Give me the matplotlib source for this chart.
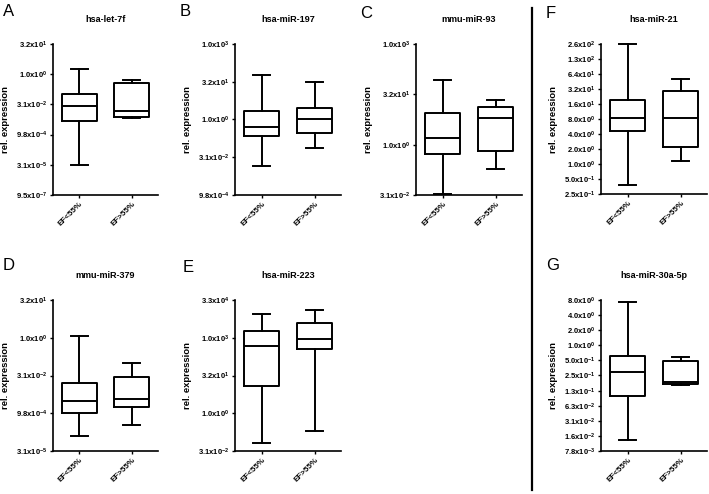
from decimal import Decimal, ROUND_HALF_UP

import numpy as np
import matplotlib
matplotlib.use("Agg")
import matplotlib.pyplot as plt
from matplotlib.lines import Line2D
from matplotlib.ticker import FuncFormatter, NullLocator

plt.rcParams["font.family"] = ["Liberation Sans", "DejaVu Sans"]
plt.rcParams["mathtext.fontset"] = "custom"
plt.rcParams["mathtext.rm"] = "Liberation Sans"
plt.rcParams["mathtext.bf"] = "Liberation Sans:bold"
plt.rcParams["mathtext.default"] = "bf"

W, H = 709, 494

GROUPS = ["EF<55%", "EF>55%"]
PANELS = ["A", "B", "C", "D", "E", "F", "G"]
TITLES = ["hsa-let-7f", "hsa-miR-197", "mmu-miR-93", "mmu-miR-379",
          "hsa-miR-223", "hsa-miR-21", "hsa-miR-30a-5p"]

# box stats as log2(rel. expression): whislo, q1, median, q3, whishi
A_LT55 = [-15.1, -7.7, -5.26, -3.3, 0.82]
A_GT55 = [-7.3, -7.1, -6.1, -1.43, -1.04]
B_LT55 = [-6.18, -2.25, -0.93, 1.19, 5.96]
B_GT55 = [-3.8, -1.85, 0.13, 1.46, 5.03]
C_LT55 = [-4.95, -0.89, 0.66, 3.14, 6.4]
C_GT55 = [-2.41, -0.66, 2.67, 3.7, 4.46]
D_LT55 = [-13.0, -9.93, -8.4, -6.0, 0.22]
D_GT55 = [-11.6, -9.23, -8.12, -5.17, -3.4]
E_LT55 = [-4.0, 3.64, 8.94, 10.93, 13.13]
E_GT55 = [-2.3, 8.5, 9.82, 11.99, 13.7]
F_LT55 = [-1.39, 2.18, 3.08, 4.25, 8.0]
F_GT55 = [0.2, 1.12, 3.08, 4.85, 5.66]
G_LT55 = [-6.3, -3.33, -1.75, -0.73, 2.85]
G_GT55 = [-2.62, -2.55, -2.4, -1.03, -0.78]

BOXES = [(A_LT55, A_GT55), (B_LT55, B_GT55), (C_LT55, C_GT55),
         (D_LT55, D_GT55), (E_LT55, E_GT55), (F_LT55, F_GT55),
         (G_LT55, G_GT55)]

# y tick exponents (base 2): first, last, step
Y_TICKS = [(-20, 5, 5), (-10, 10, 5), (-5, 10, 5), (-15, 5, 5),
           (-5, 15, 5), (-2, 8, 1), (-7, 3, 1)]

# axes boxes in pixels: left, top, width, height
AX_PX = [(53, 44, 105, 151), (235, 44, 106, 151), (416, 44, 106, 151),
         (53, 300, 105, 151), (235, 300, 106, 151), (601, 44, 106, 150),
         (601, 300, 106, 151)]
LETTER_PX = [(3, 4), (180, 4), (360, 6), (3, 258), (183, 260), (546, 6),
             (546, 258)]


def sci_label(v, pos=None):
    d = Decimal(repr(float(v)))
    e = d.adjusted()
    m = (d.scaleb(-e)).quantize(Decimal("0.1"), rounding=ROUND_HALF_UP)
    if m >= 10:
        m = (m / 10).quantize(Decimal("0.1"))
        e += 1
    return f"{m}x10$^{{{e}}}$"


def draw_panel(fig, i):
    l, t, w, h = AX_PX[i]
    ax = fig.add_axes([l / W, 1 - (t + h) / H, w / W, h / H])
    stats = []
    for s in BOXES[i]:
        lo, q1, med, q3, hi = (2.0 ** np.array(s))
        stats.append(dict(whislo=lo, q1=q1, med=med, q3=q3, whishi=hi,
                          fliers=[]))
    lw = 1.4
    art = ax.bxp(stats, positions=[1, 2], widths=0.66, capwidths=0.33,
                 showfliers=False,
                 boxprops=dict(color="black", linewidth=lw),
                 whiskerprops=dict(color="black", linewidth=lw),
                 capprops=dict(color="black", linewidth=lw),
                 medianprops=dict(color="black", linewidth=lw))
    for group in art.values():
        for a in group:
            a.set_clip_on(False)

    ax.set_yscale("log", base=2)
    lo, hi, step = Y_TICKS[i]
    ax.set_ylim(2.0 ** lo, 2.0 ** hi)
    ax.set_yticks(2.0 ** np.arange(lo, hi + 1, step))
    ax.yaxis.set_minor_locator(NullLocator())
    ax.yaxis.set_major_formatter(FuncFormatter(sci_label))
    ax.set_xlim(0.5, 2.5)
    ax.set_xticks([1, 2])
    ax.set_xticklabels(GROUPS, rotation=45, ha="right",
                       rotation_mode="anchor", fontsize=5.8,
                       fontweight="bold")
    for lab in ax.get_yticklabels():
        lab.set_fontsize(5.5)
        lab.set_fontweight("bold")
    ax.tick_params(axis="both", length=2.5, width=1.0, pad=1.5,
                   color="black")

    for side in ("top", "right"):
        ax.spines[side].set_visible(False)
    for side in ("left", "bottom"):
        ax.spines[side].set_linewidth(1.2)

    ax.set_title(TITLES[i], fontsize=6.5, fontweight="bold", pad=16)
    ax.set_ylabel("rel. expression", fontsize=6.8, fontweight="bold")
    ax.yaxis.set_label_coords(-0.41, 0.5)

    lx, ly = LETTER_PX[i]
    fig.text(lx / W, 1 - ly / H, PANELS[i], fontsize=12, va="top",
             ha="left")


def main() -> None:
    fig = plt.figure(figsize=(W / 100, H / 100), dpi=100)
    for i in range(len(PANELS)):
        draw_panel(fig, i)
    # separator between the two blocks
    fig.add_artist(Line2D([532 / W, 532 / W], [1 - 8 / H, 1 - 490 / H],
                          color="black", linewidth=1.6))
    fig.savefig("out.png", dpi=100)
    plt.close(fig)


if __name__ == "__main__":
    main()
